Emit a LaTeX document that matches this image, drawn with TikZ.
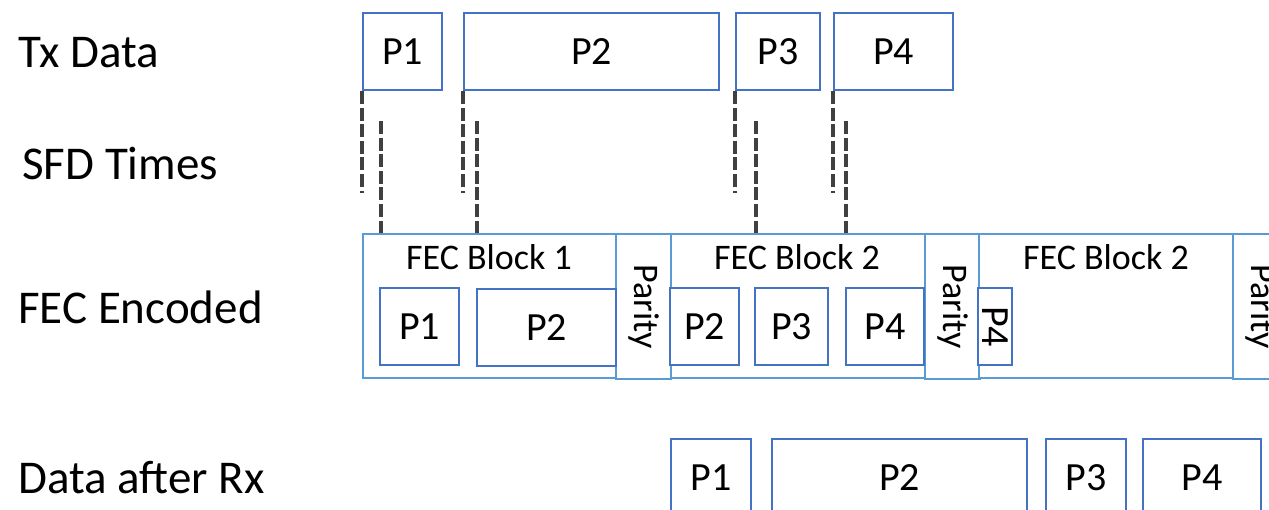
\documentclass[tikz,border=0pt]{standalone}
\usepackage{fontspec}
\setmainfont{Carlito}
\usetikzlibrary{positioning}
\definecolor{pktblue}{HTML}{4472C4}
\definecolor{fecblue}{HTML}{5B9BD5}
\definecolor{sfdgray}{HTML}{404040}

\begin{document}
\begin{tikzpicture}[x=0.5pt,y=-0.5pt,
  pkt/.style={draw=pktblue,line width=1pt,fill=white,anchor=north west,inner sep=0pt,
    minimum height=38.5pt,font=\fontsize{20}{24}\selectfont},
  fecblk/.style={draw=fecblue,line width=1pt,fill=white,anchor=north west,inner sep=0pt,
    minimum width=127pt,minimum height=72pt},
  paritybox/.style={fecblk,minimum width=27.5pt,minimum height=72.5pt},
  blktxt/.style={inner sep=0pt,font=\fontsize{18}{22}\selectfont},
  vtxt/.style={blktxt,rotate=-90},
  rowlabel/.style={anchor=west,inner sep=0pt,font=\fontsize{23.5}{28}\selectfont},
  sfd/.style={draw=sfdgray,line width=1.8pt,dash pattern=on 6.5pt off 1.8pt}]
  \useasboundingbox (0,0) rectangle (1269,509);
  \clip (0,0) rectangle (1269,509);

  % row labels
  \node[rowlabel] (lbltx) at (18,53) {Tx Data};
  \node[rowlabel] (lblsfd) at (22,163) {SFD Times};
  \node[rowlabel] (lblfec) at (18,307) {FEC Encoded};
  \node[rowlabel] (lblrx) at (18,478) {Data after Rx};

  % transmitted packets
  \node[pkt,minimum width=39.5pt] (txA) at (362,12) {P1};
  \node[pkt,minimum width=127.5pt] (txB) at (463,12) {P2};
  \node[pkt,minimum width=42pt] (txC) at (735,12) {P3};
  \node[pkt,minimum width=59.5pt] (txD) at (833,12) {P4};

  % FEC blocks and parity
  \node[fecblk] (blkA) at (362,233) {};
  \node[paritybox] (parA) at (615,233) {};
  \node[fecblk] (blkB) at (670,233) {};
  \node[paritybox] (parB) at (924,233) {};
  \node[fecblk] (blkC) at (978,233) {};
  \node[paritybox] (parC) at (1232,233) {};
  \node[blktxt] (ttlA) at (489,257) {FEC Block 1};
  \node[blktxt] (ttlB) at (797,257) {FEC Block 2};
  \node[blktxt] (ttlC) at (1106,257) {FEC Block 2};
  \node[vtxt] at (parA.center) {Parity};
  \node[vtxt] at (parB.center) {Parity};
  \node[vtxt] at (parC.center) {Parity};

  % packets inside the FEC blocks
  \node[pkt,minimum width=39.5pt] (fA1) at (379,287) {P1};
  \node[pkt,minimum width=69.5pt] (fA2) at (476,288) {P2};
  \node[pkt,minimum width=34.5pt] (fB2) at (669,287) {P2};
  \node[pkt,minimum width=36.5pt] (fB3) at (754,287) {P3};
  \node[pkt,minimum width=39pt] (fB4) at (845,287) {P4};
  \node[pkt,minimum width=17pt] (fC4) at (977,287) {};
  \node[pkt,draw=none,fill=none,anchor=center,rotate=-90] at (fC4.center) {P4};

  % SFD times
  \coordinate (gapA) at (362,193);
  \coordinate (gapB) at (463,193);
  \coordinate (gapC) at (735,193);
  \coordinate (gapD) at (833,193);
  \draw[sfd] (txA.south west) -- (gapA);
  \draw[sfd] (txB.south west) -- (gapB);
  \draw[sfd] (txC.south west) -- (gapC);
  \draw[sfd] (txD.south west) -- (gapD);
  \coordinate (sfdA) at (381,121);
  \coordinate (sfdB) at (477,121);
  \coordinate (sfdC) at (756,121);
  \coordinate (sfdD) at (846,121);
  \draw[sfd] (sfdA) -- (sfdA |- blkA.north);
  \draw[sfd] (sfdB) -- (sfdB |- blkA.north);
  \draw[sfd] (sfdC) -- (sfdC |- blkB.north);
  \draw[sfd] (sfdD) -- (sfdD |- blkB.north);

  % received packets
  \node[pkt,minimum width=40pt] (rxA) at (670,438) {P1};
  \node[pkt,minimum width=127.5pt] (rxB) at (771,438) {P2};
  \node[pkt,minimum width=40pt] (rxC) at (1045,438) {P3};
  \node[pkt,minimum width=59pt] (rxD) at (1142,438) {P4};
\end{tikzpicture}
\end{document}
